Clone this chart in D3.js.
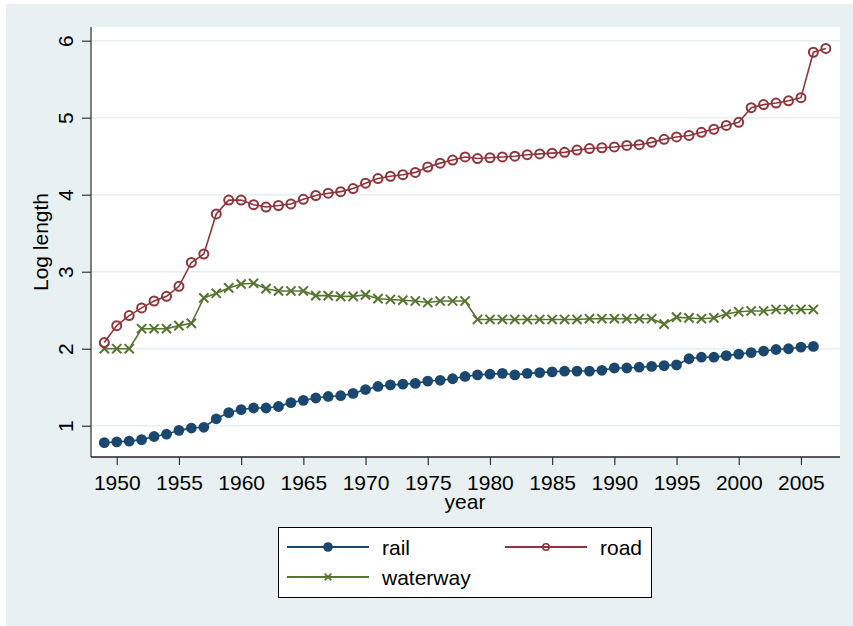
<!DOCTYPE html>
<html>
<head>
<meta charset="utf-8">
<script src="https://cdn.jsdelivr.net/npm/d3@7"></script>
<style>
  body { margin: 0; background: #fff; }
  text { font-family: "Liberation Sans", Arial, sans-serif; fill: #000; }
</style>
</head>
<body>
<div id="chart"></div>
<script>
// data
var years = d3.range(1949, 2008);
var rail = [0.78, 0.79, 0.80, 0.82, 0.86, 0.89, 0.94, 0.97, 0.98, 1.09,
    1.17, 1.21, 1.23, 1.23, 1.25, 1.30, 1.33, 1.36, 1.38, 1.39,
    1.42, 1.47, 1.51, 1.53, 1.54, 1.55, 1.58, 1.59, 1.61, 1.64,
    1.66, 1.67, 1.68, 1.66, 1.68, 1.69, 1.70, 1.71, 1.71, 1.71,
    1.72, 1.75, 1.75, 1.76, 1.77, 1.78, 1.79, 1.87, 1.89, 1.89,
    1.91, 1.93, 1.95, 1.97, 1.99, 2.00, 2.02, 2.03];
var road = [2.08, 2.30, 2.43, 2.53, 2.62, 2.68, 2.81, 3.12, 3.23, 3.75,
    3.93, 3.93, 3.87, 3.84, 3.86, 3.88, 3.94, 3.99, 4.02, 4.04,
    4.08, 4.15, 4.21, 4.24, 4.26, 4.29, 4.36, 4.41, 4.45, 4.49,
    4.47, 4.48, 4.49, 4.50, 4.52, 4.53, 4.54, 4.55, 4.58, 4.60,
    4.61, 4.62, 4.64, 4.65, 4.68, 4.72, 4.75, 4.77, 4.81, 4.85,
    4.90, 4.94, 5.13, 5.17, 5.19, 5.22, 5.26, 5.85, 5.90];
var waterway = [2.00, 2.00, 2.00, 2.26, 2.26, 2.26, 2.30, 2.33, 2.66, 2.72,
    2.79, 2.84, 2.85, 2.78, 2.75, 2.75, 2.75, 2.69, 2.69, 2.68,
    2.68, 2.70, 2.65, 2.64, 2.63, 2.62, 2.60, 2.62, 2.62, 2.62,
    2.38, 2.38, 2.38, 2.38, 2.38, 2.38, 2.38, 2.38, 2.38, 2.39,
    2.39, 2.39, 2.39, 2.39, 2.39, 2.32, 2.41, 2.40, 2.39, 2.40,
    2.45, 2.48, 2.49, 2.49, 2.51, 2.51, 2.51, 2.51];
var xTicks = d3.range(1950, 2006, 5);
var yTicks = [1, 2, 3, 4, 5, 6];
var seriesNames = ["rail", "road", "waterway"];

var width = 853, height = 626;
var colors = { rail: "#1a476f", road: "#90353b", waterway: "#55752f" };
var bg = "#e8f0f2";

var svg = d3.select("#chart").append("svg")
    .attr("width", width)
    .attr("height", height);

// outer panel
svg.append("rect")
    .attr("x", 6).attr("y", 4)
    .attr("width", width - 6).attr("height", height - 4)
    .attr("fill", bg);

var plot = { left: 91, right: 840, top: 27, bottom: 457 };

svg.append("rect")
    .attr("x", plot.left).attr("y", plot.top)
    .attr("width", plot.right - plot.left)
    .attr("height", plot.bottom - plot.top)
    .attr("fill", "#fff");

var xScale = d3.scaleLinear()
    .domain([1947.93, 2008.14])
    .range([plot.left, plot.right]);

var yScale = d3.scaleLinear()
    .domain([0.594, 6.178])
    .range([plot.bottom, plot.top]);

// gridlines
svg.append("g").selectAll("line")
    .data(yTicks)
    .enter()
    .append("line")
    .attr("x1", plot.left).attr("x2", plot.right)
    .attr("y1", d => yScale(d)).attr("y2", d => yScale(d))
    .attr("stroke", "#e6eef1")
    .attr("stroke-width", 1.6);

// y axis
var leftAxis = d3.axisLeft(yScale).tickValues(yTicks).tickSize(9).tickSizeOuter(0)
    .tickFormat(d3.format("d"));
var yAxis = svg.append("g")
    .attr("transform", `translate(${plot.left}, 0)`)
    .call(leftAxis);
yAxis.select(".domain").attr("stroke", "#555").attr("stroke-width", 1.5)
    .attr("d", `M0,${plot.top}V${plot.bottom}`);
yAxis.selectAll(".tick line").attr("stroke", "#333").attr("stroke-width", 1.2);
yAxis.selectAll(".tick text")
    .attr("x", 0).attr("y", 0).attr("dy", 0)
    .attr("transform", "translate(-18,0) rotate(-90)")
    .attr("text-anchor", "middle")
    .style("font-size", "21px")
    .style("font-family", "Liberation Sans, Arial, sans-serif")
    .attr("fill", "#000");

// x axis
var bottomAxis = d3.axisBottom(xScale).tickValues(xTicks).tickSize(8).tickSizeOuter(0)
    .tickFormat(d3.format("d"));
var xAxis = svg.append("g")
    .attr("transform", `translate(0, ${plot.bottom})`)
    .call(bottomAxis);
xAxis.select(".domain").attr("stroke", "#222").attr("stroke-width", 1.5)
    .attr("d", `M${plot.left},0H${plot.right}`);
xAxis.selectAll(".tick line").attr("stroke", "#333").attr("stroke-width", 1.2);
xAxis.selectAll(".tick text")
    .attr("y", 33).attr("dy", 0)
    .style("font-size", "21px")
    .style("font-family", "Liberation Sans, Arial, sans-serif")
    .attr("fill", "#000");

// axis titles
svg.append("text")
    .attr("transform", "translate(48, 242) rotate(-90)")
    .attr("text-anchor", "middle")
    .style("font-size", "21px")
    .text("Log length");

svg.append("text")
    .attr("x", 465).attr("y", 509)
    .attr("text-anchor", "middle")
    .style("font-size", "21px")
    .text("year");

// series
var series = {
    rail: years.slice(0, rail.length).map((y, i) => ({ year: y, v: rail[i] })),
    road: years.slice(0, road.length).map((y, i) => ({ year: y, v: road[i] })),
    waterway: years.slice(0, waterway.length).map((y, i) => ({ year: y, v: waterway[i] }))
};

var line = d3.line()
    .x(d => xScale(d.year))
    .y(d => yScale(d.v));

function drawMarker(g, name, x, y, big) {
    var c = colors[name];
    if (name === "rail") {
        g.append("circle").attr("cx", x).attr("cy", y).attr("r", big ? 5.4 : 4.8)
            .attr("fill", c);
    } else if (name === "road") {
        g.append("circle").attr("cx", x).attr("cy", y).attr("r", big ? 4.5 : 3.2)
            .attr("fill", "none").attr("stroke", c).attr("stroke-width", big ? 2 : 1.6);
    } else {
        var s = big ? 4.6 : 3.3;
        g.append("path")
            .attr("d", `M${x - s},${y - s}L${x + s},${y + s}M${x - s},${y + s}L${x + s},${y - s}`)
            .attr("stroke", c).attr("stroke-width", big ? 2 : 1.7).attr("fill", "none");
    }
}

// draw waterway, road, rail order (rail on top)
["waterway", "road", "rail"].forEach(function(name) {
    var g = svg.append("g");
    g.append("path")
        .datum(series[name])
        .attr("d", line)
        .attr("fill", "none")
        .attr("stroke", colors[name])
        .attr("stroke-width", 1.6);
    series[name].forEach(function(d) {
        drawMarker(g, name, xScale(d.year), yScale(d.v), true);
    });
});

// legend
var legend = svg.append("g");
legend.append("rect")
    .attr("x", 278.5).attr("y", 527.5)
    .attr("width", 373).attr("height", 70)
    .attr("fill", "#fff")
    .attr("stroke", "#000")
    .attr("stroke-width", 1);

var legendItems = [
    { name: "rail", x: 287, y: 547 },
    { name: "road", x: 505, y: 547 },
    { name: "waterway", x: 287, y: 577 }
];
legendItems.forEach(function(item) {
    legend.append("line")
        .attr("x1", item.x).attr("x2", item.x + 82)
        .attr("y1", item.y).attr("y2", item.y)
        .attr("stroke", colors[item.name])
        .attr("stroke-width", 1.8);
    drawMarker(legend, item.name, item.x + 41, item.y, false);
    legend.append("text")
        .attr("x", item.x + 95)
        .attr("y", item.y + 8)
        .style("font-size", "21px")
        .text(item.name);
});
</script>
</body>
</html>
